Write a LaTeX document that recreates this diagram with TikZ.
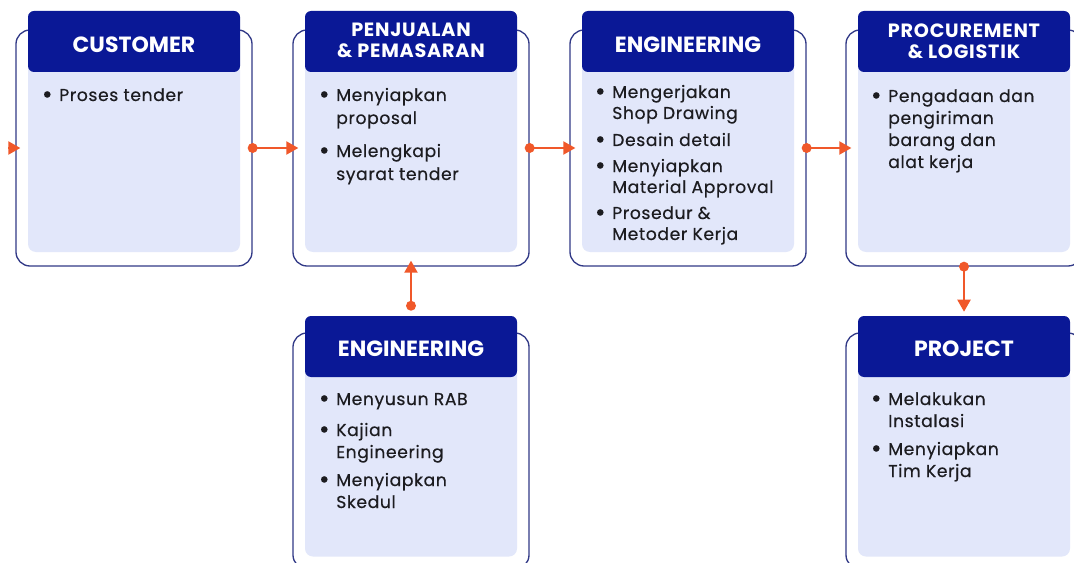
\documentclass[tikz,border=0pt]{standalone}
\usepackage{fontspec}
\setmainfont{Poppins}
\newfontfamily\bodyfont{Poppins}[FakeBold=0.45,LetterSpace=3.5]
\newfontfamily\hdtwofont{Poppins}[LetterSpace=4]
\usetikzlibrary{arrows.meta}
\definecolor{navy}{RGB}{10,24,150}
\definecolor{lav}{RGB}{226,231,250}
\definecolor{framec}{RGB}{50,58,135}
\definecolor{accent}{RGB}{240,88,42}
\definecolor{ink}{RGB}{28,28,32}
\newcommand\bul{\llap{\raisebox{-0.12em}{\scalebox{1.5}{\textbullet}}\hspace{5pt}}}
\begin{document}
\begin{tikzpicture}[x=0.75pt,y=-0.75pt,
  card/.style={draw=framec,line width=1pt,rounded corners=10.5pt,minimum width=177pt,minimum height=177pt,inner sep=0pt},
  hdr/.style={fill=navy,rounded corners=4.5pt,minimum width=159pt,minimum height=45.75pt,inner sep=0pt},
  hdrtext/.style={text=white,font=\fontsize{16.5pt}{19pt}\bfseries\selectfont,inner sep=0pt},
  hdrtwo/.style={text=white,font=\hdtwofont\fontsize{14.4pt}{15.6pt}\bfseries\selectfont,align=center,inner sep=0pt},
  bodybox/.style={fill=lav,rounded corners=6pt,minimum width=159pt,minimum height=142.5pt,inner sep=0pt},
  itm/.style={anchor=base west,inner sep=0pt,text=ink,font=\bodyfont\fontsize{12.9pt}{#1}\selectfont},
  itm/.default=16.5pt,
  conn/.style={draw=accent,line width=1.6pt,-{Triangle[length=9pt,width=9.75pt]}},
  dot/.style={fill=accent}
]
\useasboundingbox (0,0) rectangle (1074,563);
\fill[white] (0,0) rectangle (1074,563);
\clip (0,0) rectangle (1074,563);

% frames
\node[card] (f0) at (134,148) {};
\node[card] (f1) at (411,148) {};
\node[card] (f2) at (688,148) {};
\node[card] (f3) at (964,148) {};
\node[card] (fb1) at (411,451) {};
\node[card] (fb3) at (964,451) {};

% bodies
\node[bodybox] (b0) at (134,157) {};
\node[bodybox] (b1) at (411,157) {};
\node[bodybox] (b2) at (688,157) {};
\node[bodybox] (b3) at (964,157) {};
\node[bodybox] (bb1) at (411,461.5) {};
\node[bodybox] (bb3) at (964,461.5) {};

% headers
\node[hdr] (h0) at (134,41.5) {};
\node[hdr] (h1) at (411,41.5) {};
\node[hdr] (h2) at (688,41.5) {};
\node[hdr] (h3) at (964,41.5) {};
\node[hdr] (hb1) at (411,346.5) {};
\node[hdr] (hb3) at (964,346.5) {};

\node[hdrtext] (t0) at (134,45) {CUSTOMER};
\node[hdrtwo] (t1) at (411,40.5) {PENJUALAN\\\& PEMASARAN};
\node[hdrtext] (t2) at (688,45) {ENGINEERING};
\node[hdrtwo] (t3) at (964,41.5) {PROCUREMENT\\\& LOGISTIK};
\node[hdrtext] (tb1) at (411,349) {ENGINEERING};
\node[hdrtext] (tb3) at (964,349) {PROJECT};

% items
\node[itm] (c0a) at (59,101) {\bul Proses tender};

\node[itm=17.25pt] (c1a) at (336,101) {\vtop{\hbox{\bul Menyiapkan}\hbox{proposal}}};
\node[itm=17.25pt] (c1b) at (336,157) {\vtop{\hbox{\bul Melengkapi}\hbox{syarat tender}}};

\node[itm=15.75pt] (c2a) at (612,98) {\vtop{\hbox{\bul Mengerjakan}\hbox{Shop Drawing}}};
\node[itm=15.75pt] (c2b) at (612,146) {\bul Desain detail};
\node[itm=15.75pt] (c2c) at (612,172) {\vtop{\hbox{\bul Menyiapkan}\hbox{Material Approval}}};
\node[itm=15.75pt] (c2d) at (612,219) {\vtop{\hbox{\bul Prosedur \&}\hbox{Metoder Kerja}}};

\node[itm] (c3a) at (888,102) {\vtop{\hbox{\bul Pengadaan dan}\hbox{pengiriman}\hbox{barang dan}\hbox{alat kerja}}};

\node[itm] (d1a) at (336,405) {\bul Menyusun RAB};
\node[itm] (d1b) at (336,436) {\vtop{\hbox{\bul Kajian}\hbox{Engineering}}};
\node[itm] (d1c) at (336,486) {\vtop{\hbox{\bul Menyiapkan}\hbox{Skedul}}};

\node[itm] (d3a) at (888,405) {\vtop{\hbox{\bul Melakukan}\hbox{Instalasi}}};
\node[itm] (d3b) at (888,455) {\vtop{\hbox{\bul Menyiapkan}\hbox{Tim Kerja}}};

% connectors
\coordinate (in) at (8,148);
\draw[conn] (in) -- ([xshift=3.75pt]f0.west);
\draw[conn] (f0.east) -- ([xshift=4.5pt]f1.west);
\fill[dot] (f0.east) circle[radius=3.75pt];
\draw[conn] (f1.east) -- ([xshift=4.5pt]f2.west);
\fill[dot] (f1.east) circle[radius=3.75pt];
\draw[conn] (f2.east) -- ([xshift=4.5pt]f3.west);
\fill[dot] (f2.east) circle[radius=3.75pt];
\coordinate (eb) at ([yshift=7.5pt]hb1.north);
\draw[conn] (eb) -- ([yshift=4.5pt]f1.south);
\fill[dot] (eb) circle[radius=3.75pt];
\draw[conn] (f3.south) -- ([yshift=3pt]hb3.north);
\fill[dot] (f3.south) circle[radius=3.75pt];
\end{tikzpicture}
\end{document}
